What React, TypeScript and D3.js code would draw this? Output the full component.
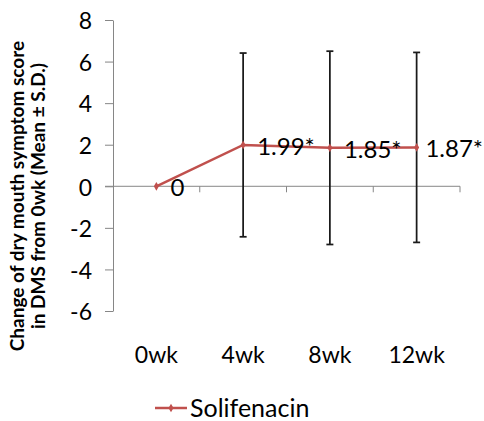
import React, { useEffect, useRef } from "react";
import * as d3 from "d3";

const categories = ["0wk", "4wk", "8wk", "12wk"];
const means = [0, 1.99, 1.85, 1.87];
const sds: (number | null)[] = [null, 4.42, 4.65, 4.57];
const pointLabels = ["0", "1.99*", "1.85*", "1.87*"];
const yTicks = [-6, -4, -2, 0, 2, 4, 6, 8];
const seriesName = "Solifenacin";
const titleLines = ["Change of dry mouth symptom score", "in DMS from 0wk (Mean \u00b1 S.D.)"];

const W = 484;
const H = 421;
const red = "#C0504D";
const axisGray = "#868686";
const font = "Lato, 'Open Sans', sans-serif";

const App = () => {
  const ref = useRef<SVGSVGElement>(null);

  useEffect(() => {
    const svg = d3.select(ref.current);
    svg.selectAll("*").remove();

    const x = d3.scaleBand().domain(categories).range([113, 460]);
    const y = d3.scaleLinear().domain([-6, 8]).range([311, 20]);
    const cx = (c: string) => (x(c) as number) + x.bandwidth() / 2;

    // y axis
    const yAxis = d3.axisLeft(y).tickValues(yTicks).tickSize(8).tickSizeOuter(0).tickFormat((d) => String(d));
    const gy = svg.append("g").attr("transform", "translate(113,0)").call(yAxis);
    gy.select(".domain").attr("stroke", axisGray);
    gy.selectAll(".tick line").attr("stroke", axisGray);
    gy.selectAll(".tick text")
      .attr("x", -21)
      .attr("dy", "0.38em")
      .attr("font-family", font)
      .attr("font-size", 23)
      .attr("fill", "#000");

    // x axis at zero
    const x0 = y(0);
    svg.append("line")
      .attr("x1", 105).attr("x2", 460)
      .attr("y1", x0).attr("y2", x0)
      .attr("stroke", axisGray);
    const bounds = categories.map((c) => (x(c) as number) + x.bandwidth());
    svg.selectAll(".xtick")
      .data(bounds)
      .enter()
      .append("line")
      .attr("x1", (d) => d).attr("x2", (d) => d)
      .attr("y1", x0).attr("y2", x0 + 6)
      .attr("stroke", axisGray);
    svg.selectAll(".xlab")
      .data(categories)
      .enter()
      .append("text")
      .attr("x", (d) => cx(d))
      .attr("y", 363)
      .attr("text-anchor", "middle")
      .attr("font-family", font)
      .attr("font-size", 23)
      .text((d) => d);

    // error bars
    const eb = categories.map((c, i) => ({ c, m: means[i], s: sds[i] })).filter((d) => d.s != null);
    const g = svg.append("g").attr("stroke", "#1a1a1a").attr("stroke-width", 1.75);
    eb.forEach((d) => {
      const xc = cx(d.c);
      const top = y(d.m + (d.s as number));
      const bot = y(d.m - (d.s as number));
      g.append("line").attr("x1", xc).attr("x2", xc).attr("y1", top).attr("y2", bot);
      g.append("line").attr("x1", xc - 3.5).attr("x2", xc + 3.5).attr("y1", top).attr("y2", top);
      g.append("line").attr("x1", xc - 3.5).attr("x2", xc + 3.5).attr("y1", bot).attr("y2", bot);
    });

    // line and markers
    const line = d3.line<number>().x((_, i) => cx(categories[i])).y((d) => y(d));
    svg.append("path")
      .attr("d", line(means))
      .attr("fill", "none")
      .attr("stroke", red)
      .attr("stroke-width", 2.5);
    const diamond = d3.symbol().type(d3.symbolDiamond).size(22);
    svg.selectAll(".pt")
      .data(means)
      .enter()
      .append("path")
      .attr("d", diamond)
      .attr("transform", (d, i) => `translate(${cx(categories[i])},${y(d)})`)
      .attr("fill", red);

    // data labels
    svg.selectAll(".lbl")
      .data(means)
      .enter()
      .append("text")
      .attr("font-family", font)
      .attr("font-size", 24)
      .attr("y", (d) => y(d) + 10)
      .text((_, i) => pointLabels[i])
      .attr("x", function (_, i) {
        const w = (this as SVGTextElement).getComputedTextLength();
        return Math.min(cx(categories[i]) + 14, W - w - 1);
      });

    // y title
    const t = svg.append("text")
      .attr("transform", "translate(0,196) rotate(-90)")
      .attr("text-anchor", "middle")
      .attr("font-family", font)
      .attr("font-weight", "bold")
      .attr("font-size", 19);
    titleLines.forEach((l, i) => {
      t.append("tspan").attr("x", 0).attr("y", 24 + i * 21).text(l);
    });

    // legend
    const ly = 408;
    svg.append("line")
      .attr("x1", 155).attr("x2", 187)
      .attr("y1", ly).attr("y2", ly)
      .attr("stroke", red).attr("stroke-width", 2.5);
    svg.append("path")
      .attr("d", diamond)
      .attr("transform", `translate(171,${ly})`)
      .attr("fill", red);
    svg.append("text")
      .attr("x", 190)
      .attr("y", ly + 9)
      .attr("font-family", font)
      .attr("font-size", 25)
      .text(seriesName);
  }, []);

  return (
    <div>
      <svg
        ref={ref}
        width={W}
        height={H}
        style={{ position: "absolute", left: 0, top: 0, background: "#fff" }}
      />
    </div>
  );
};

export default App;
